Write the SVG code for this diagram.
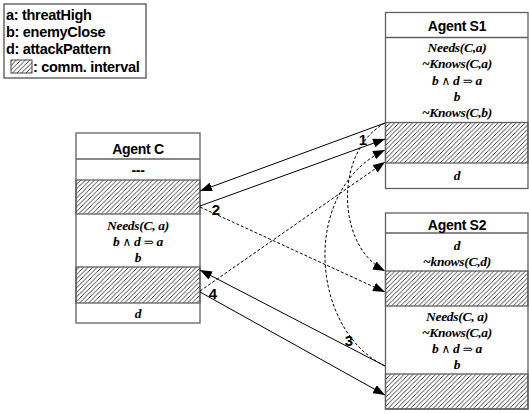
<svg xmlns="http://www.w3.org/2000/svg" width="529" height="414" viewBox="0 0 529 414">
<style>
.box{fill:#fff;stroke:#606060;stroke-width:1.3}
.sep{stroke:#606060;stroke-width:1.3}
.hatch{fill:url(#hp);stroke:#606060;stroke-width:1.3}
.hdr{font-family:"Liberation Sans",Arial,sans-serif;font-weight:bold;font-size:14px;text-anchor:middle;fill:#000;letter-spacing:-0.3px}
.it{font-family:"Liberation Serif","DejaVu Serif",serif;font-weight:bold;font-style:italic;font-size:13.5px;text-anchor:middle;fill:#000;letter-spacing:-0.3px}
.sym{font-family:"DejaVu Serif",serif;font-weight:normal;font-style:normal;font-size:12px}
.leg{font-family:"Liberation Sans",Arial,sans-serif;font-weight:bold;font-size:14.5px;fill:#000;letter-spacing:-0.3px}
.lbl{font-family:"Liberation Sans",Arial,sans-serif;font-weight:bold;font-size:15px;text-anchor:middle;fill:#000}
.solid{fill:none;stroke:#000;stroke-width:1;marker-end:url(#ah)}
.dash{fill:none;stroke:#000;stroke-width:1;stroke-dasharray:3 2;marker-end:url(#ah)}
</style>
<defs>
<pattern id="hp" patternUnits="userSpaceOnUse" width="4.5" height="4.5">
<path d="M0,4.5 L4.5,0 M-1,1 L1,-1 M3.5,5.5 L5.5,3.5" stroke="#000" stroke-width="0.75"/>
</pattern>
<marker id="ah" markerUnits="userSpaceOnUse" markerWidth="13" markerHeight="9" refX="12" refY="4.5" orient="auto">
<path d="M0,0 L12,4.5 L0,9 z" fill="#000"/>
</marker>
</defs>

<g id="legend">
<rect x="4" y="4" width="142" height="74" fill="#fff" stroke="#444" stroke-width="1.2"/>
<text class="leg" x="6" y="20">a: threatHigh</text>
<text class="leg" x="6" y="37">b: enemyClose</text>
<text class="leg" x="6" y="54">d: attackPattern</text>
<rect x="11" y="60" width="21" height="13" fill="url(#hp)" stroke="#444" stroke-width="1"/>
<text class="leg" x="33" y="72">: comm. interval</text>
</g>

<g id="agentS1">
<rect class="box" x="385.5" y="12.5" width="142.5" height="176"/>
<line class="sep" x1="385.5" y1="37.5" x2="528" y2="37.5"/>
<text class="hdr" x="457" y="31">Agent S1</text>
<text class="it" x="457" y="52">Needs(C,a)</text>
<text class="it" x="457" y="68">~Knows(C,a)</text>
<text class="it" x="457" y="85">b <tspan class="sym">∧</tspan> d <tspan class="sym">⇒</tspan> a</text>
<text class="it" x="457" y="101">b</text>
<text class="it" x="457" y="117">~Knows(C,b)</text>
<rect class="hatch" x="385.5" y="122.5" width="142.5" height="40.5"/>
<text class="it" x="457" y="180">d</text>
</g>

<g id="agentS2">
<rect class="box" x="385.5" y="213" width="142.5" height="196"/>
<line class="sep" x1="385.5" y1="233" x2="528" y2="233"/>
<text class="hdr" x="457" y="229.5">Agent S2</text>
<text class="it" x="457" y="250">d</text>
<text class="it" x="457" y="266">~knows(C,d)</text>
<rect class="hatch" x="385.5" y="271" width="142.5" height="35"/>
<text class="it" x="457" y="321">Needs(C, a)</text>
<text class="it" x="457" y="337">~Knows(C,a)</text>
<text class="it" x="457" y="353">b <tspan class="sym">∧</tspan> d <tspan class="sym">⇒</tspan> a</text>
<text class="it" x="457" y="369">b</text>
<rect class="hatch" x="385.5" y="374" width="142.5" height="35"/>
</g>

<g id="agentC">
<rect class="box" x="76" y="133" width="124" height="190"/>
<line class="sep" x1="76" y1="159" x2="200" y2="159"/>
<text class="hdr" x="138" y="154">Agent C</text>
<text class="hdr" x="138" y="175">---</text>
<rect class="hatch" x="76" y="180" width="124" height="34"/>
<text class="it" x="138" y="230">Needs(C, a)</text>
<text class="it" x="138" y="246">b <tspan class="sym">∧</tspan> d <tspan class="sym">⇒</tspan> a</text>
<text class="it" x="138" y="262">b</text>
<rect class="hatch" x="76" y="267" width="124" height="36"/>
<text class="it" x="138" y="318">d</text>
</g>

<g id="connectors">
<line class="solid" x1="385" y1="123" x2="200" y2="191"/>
<line class="solid" x1="200" y1="206" x2="385" y2="139"/>
<line class="dash" x1="200" y1="207" x2="385" y2="292"/>
<line class="dash" x1="200" y1="291" x2="385" y2="162"/>
<line class="solid" x1="385" y1="366" x2="200" y2="270"/>
<line class="solid" x1="200" y1="292" x2="385" y2="395"/>
<path class="dash" d="M385,123 C335,150 335,245 385,271"/>
<path class="dash" d="M385,366 C310,330 300,190 385,150"/>
<text class="lbl" x="363" y="145">1</text>
<text class="lbl" x="216" y="215">2</text>
<text class="lbl" x="349" y="346">3</text>
<text class="lbl" x="213" y="299">4</text>
</g>
</svg>
